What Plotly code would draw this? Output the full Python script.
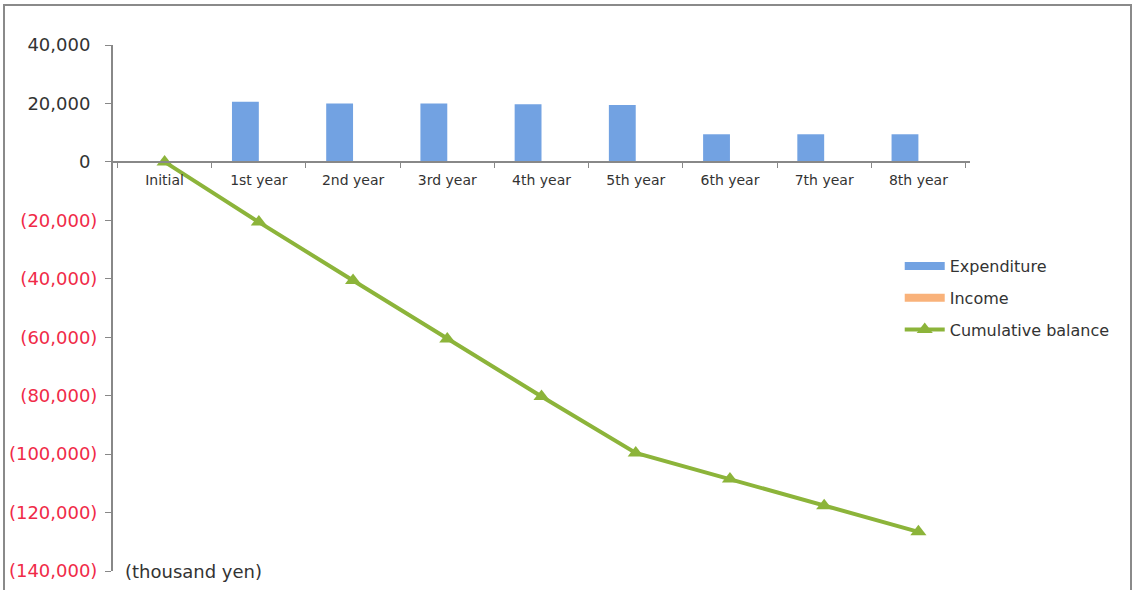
import plotly.graph_objects as go

categories = ["Initial", "1st year", "2nd year", "3rd year", "4th year",
              "5th year", "6th year", "7th year", "8th year"]
expenditure = [0, 20600, 20000, 20000, 19700, 19450, 9450, 9450, 9450]
income = [0, 0, 0, 0, 0, 0, 0, 0, 0]
cumulative = [0, -20600, -40600, -60600, -80300, -99600, -108500, -117700, -126600]
y_tickvals = [40000, 20000, 0, -20000, -40000, -60000, -80000, -100000, -120000, -140000]

EXP_COLOR = "#72a2e2"
INC_COLOR = "#f9b27a"
CUM_COLOR = "#8cb43a"


def fmt(v):
    if v < 0:
        return "<span style='color:#f02a48'>(" + f"{-v:,}" + ")</span>"
    return f"{v:,}" + "<span style='color:rgba(0,0,0,0)'>)</span>"


y_ticktext = [fmt(v) for v in y_tickvals]

fig = go.Figure()
fig.add_trace(go.Bar(x=categories, y=expenditure, name="Expenditure",
                     marker=dict(color=EXP_COLOR, line=dict(width=0)),
                     showlegend=False))
fig.add_trace(go.Bar(x=categories, y=income, name="Income",
                     marker=dict(color=INC_COLOR, line=dict(width=0)),
                     showlegend=False))
fig.add_trace(go.Scatter(x=categories, y=cumulative, name="Cumulative balance",
                         mode="lines+markers",
                         line=dict(color=CUM_COLOR, width=4),
                         marker=dict(symbol="triangle-up", size=14, color=CUM_COLOR),
                         showlegend=False))
# legend entries (wide swatches like the original)
fig.add_trace(go.Scatter(x=[None], y=[None], name="Expenditure", mode="lines",
                         line=dict(color=EXP_COLOR, width=8), legendgroup="a"))
fig.add_trace(go.Scatter(x=[None], y=[None], name="Income", mode="lines",
                         line=dict(color=INC_COLOR, width=8), legendgroup="b"))
fig.add_trace(go.Scatter(x=[None], y=[None], name="Cumulative balance",
                         mode="lines+markers",
                         line=dict(color=CUM_COLOR, width=4),
                         marker=dict(symbol="triangle-up", size=14, color=CUM_COLOR),
                         legendgroup="c"))

fig.update_layout(
    width=1134, height=590,
    margin=dict(l=113, r=164, t=45, b=19, autoexpand=False),
    paper_bgcolor="white", plot_bgcolor="white",
    font=dict(family="DejaVu Sans", color="#333333"),
    barmode="group", bargap=0.43, bargroupgap=0,
    showlegend=True,
    legend=dict(x=0.918, y=0.612, xanchor="left", yanchor="top",
                font=dict(size=16, color="#333333"), tracegroupgap=8,
                itemwidth=40, bgcolor="rgba(0,0,0,0)"),
    xaxis=dict(anchor="free", position=(140000 / 180000), showline=True,
               linecolor="#888888", linewidth=2, ticks="outside",
               tickson="boundaries", ticklen=5, tickcolor="#888888",
               tickfont=dict(size=14, color="#333333"), showgrid=False,
               zeroline=False, automargin=False, ticklabelstandoff=5),
    yaxis=dict(range=[-140000, 40000], tickvals=y_tickvals, ticktext=y_ticktext,
               showline=True, linecolor="#888888", linewidth=2, ticks="outside",
               ticklen=6, tickcolor="#888888", showgrid=False, zeroline=False,
               tickfont=dict(size=18, color="#333333"), ticklabelstandoff=4,
               automargin=False),
    annotations=[dict(text="(thousand yen)", xref="paper", yref="paper",
                      x=0.012, y=0, xanchor="left", yanchor="middle",
                      showarrow=False, font=dict(size=18, color="#333333"))],
    shapes=[dict(type="rect", xref="paper", yref="paper",
                 x0=(4 - 113) / 857, x1=(1131 - 113) / 857,
                 y0=(571 - 600) / 526, y1=(571 - 5) / 526,
                 line=dict(color="#8a8a8a", width=2), layer="below")],
)

fig.write_html("out.html")
